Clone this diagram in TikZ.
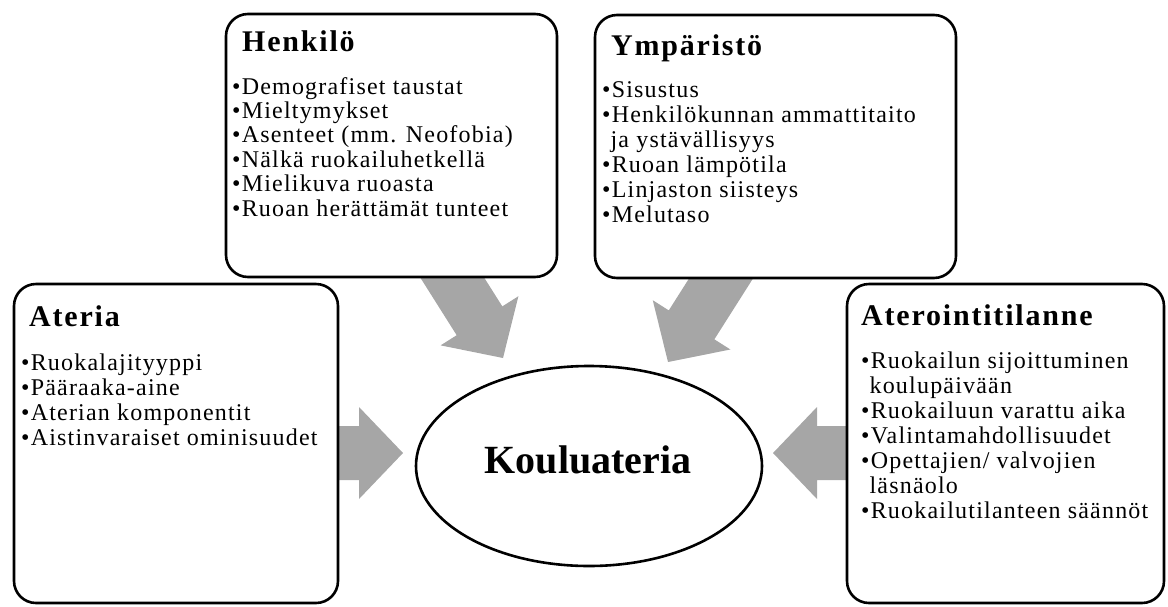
\documentclass[tikz,border=0pt]{standalone}
\usepackage{fontspec}
\setmainfont{Liberation Serif}
\newfontfamily\boxfont{Liberation Serif}[LetterSpace=5]
\newfontfamily\titlefont{Liberation Serif}[LetterSpace=6]
\usetikzlibrary{calc,shapes.geometric}
\definecolor{arrowgray}{RGB}{166,166,166}
\tikzset{
  box/.style={draw=black, line width=2.6pt, rounded corners=22pt, fill=white, inner sep=0pt, outer sep=0pt},
  boxtitle/.style={anchor=base west, inner sep=0pt, font=\titlefont\bfseries\fontsize{30}{35}\selectfont},
  item/.style={anchor=base west, inner sep=0pt, font=\boxfont\fontsize{24}{28}\selectfont},
  centre/.style={draw=black, line width=2.6pt, ellipse, fill=white, inner sep=0pt, outer sep=0pt},
  centretext/.style={anchor=base, inner sep=0pt, font=\bfseries\fontsize{40}{46}\selectfont},
  arrowfill/.style={fill=arrowgray, draw=none}
}
% block arrow: #1 tail coordinate, #2 tip coordinate
\newcommand\blockarrow[2]{%
  \coordinate (ba-h) at ($(#2)!44pt!(#1)$);
  \fill[arrowfill] ($(#1)!27pt!90:(#2)$) -- ($(ba-h)!27pt!-90:(#1)$) -- ($(ba-h)!46pt!-90:(#1)$)
    -- (#2) -- ($(ba-h)!46pt!90:(#1)$) -- ($(ba-h)!27pt!90:(#1)$) -- ($(#1)!27pt!-90:(#2)$) -- cycle;}
\begin{document}
\begin{tikzpicture}[x=1pt, y=-1pt]
\useasboundingbox (0,0) rectangle (1168,606);

% arrow ends
\coordinate (tlTail) at (431,244);
\coordinate (tlTip) at (503,358);
\coordinate (trTail) at (741,247);
\coordinate (trTip) at (668,362);
\coordinate (lTail) at (330,453);
\coordinate (lTip) at (403,453);
\coordinate (rTail) at (855,453);
\coordinate (rTip) at (773,453);

\blockarrow{tlTail}{tlTip}
\blockarrow{trTail}{trTip}
\blockarrow{lTail}{lTip}
\blockarrow{rTail}{rTip}

% boxes
\node[box, minimum width=331pt, minimum height=263pt] (henkilo) at (391.5,145.5) {};
\node[box, minimum width=361pt, minimum height=263pt] (ymparisto) at (775.5,146.5) {};
\node[box, minimum width=324pt, minimum height=319pt] (ateria) at (176,443.5) {};
\node[box, minimum width=317pt, minimum height=319pt] (aterointi) at (1005.5,443.5) {};

% centre
\node[centre, minimum width=346pt, minimum height=200pt] (kouluateria) at (589,466) {};
\node[centretext] (kouluateriaText) at (588,473) {Kouluateria};

% titles
\node[boxtitle] (henkiloTitle) at (242,51) {Henkilö};
\node[boxtitle] (ymparistoTitle) at (611,55) {Ympäristö};
\node[boxtitle] (ateriaTitle) at (29,326) {Ateria};
\node[boxtitle] (aterointiTitle) at (861,325) {Aterointitilanne};

% items
\foreach \t [count=\i] in {{•Demografiset taustat},{•Mieltymykset},{•Asenteet (mm. Neofobia)},{•Nälkä ruokailuhetkellä},{•Mielikuva ruoasta},{•Ruoan herättämät tunteet}}
  \node[item] (hen-\i) at (232,{94+24.4*(\i-1)}) {\t};

\foreach \t [count=\i] in {{•Sisustus},{•Henkilökunnan ammattitaito},{\phantom{•}ja ystävällisyys},{•Ruoan lämpötila},{•Linjaston siisteys},{•Melutaso}}
  \node[item] (ymp-\i) at (602,{97+25*(\i-1)}) {\t};

\foreach \t [count=\i] in {{•Ruokalajityyppi},{•Pääraaka-aine},{•Aterian komponentit},{•Aistinvaraiset ominisuudet}}
  \node[item] (ate-\i) at (21,{370+25*(\i-1)}) {\t};

\foreach \t [count=\i] in {{•Ruokailun sijoittuminen},{\phantom{•}koulupäivään},{•Ruokailuun varattu aika},{•Valintamahdollisuudet},{•Opettajien/ valvojien},{\phantom{•}läsnäolo},{•Ruokailutilanteen säännöt}}
  \node[item] (atl-\i) at (861,{368+25*(\i-1)}) {\t};
\end{tikzpicture}
\end{document}
